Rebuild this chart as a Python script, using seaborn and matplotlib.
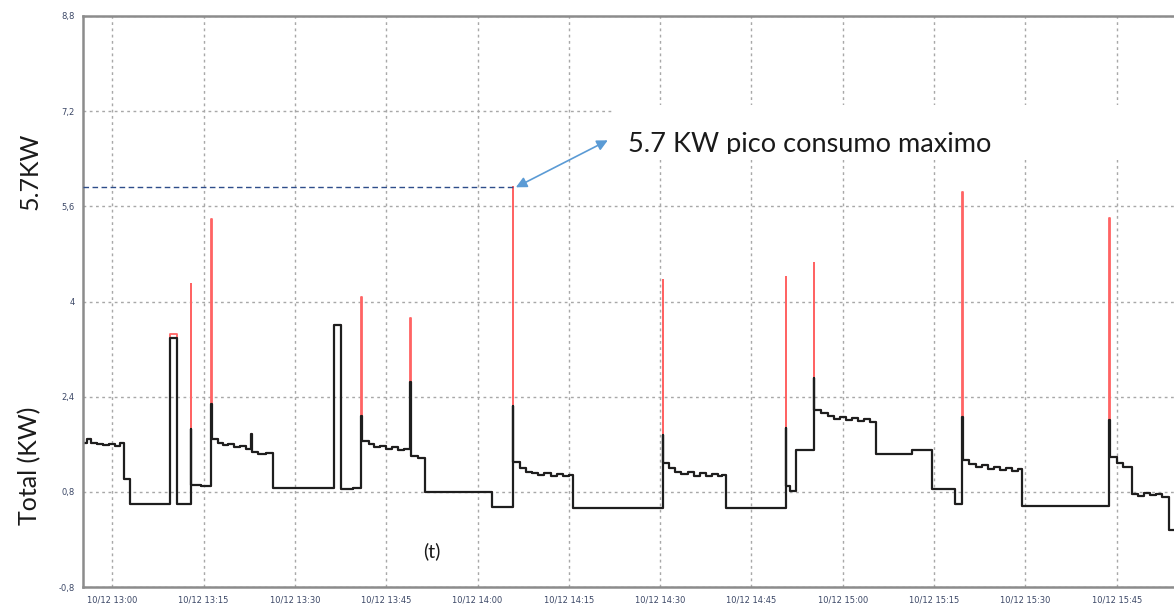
import numpy as np
import pandas as pd
import matplotlib
matplotlib.use("Agg")
import matplotlib.pyplot as plt
import matplotlib.dates as mdates
from matplotlib.ticker import FixedLocator, MultipleLocator
from matplotlib.patches import Rectangle
from matplotlib.transforms import Bbox, TransformedBbox
import seaborn as sns

sns.set_style("white")
plt.rcParams['font.family'] = ['Lato', 'DejaVu Sans']

# minutes after 10/12 13:00 -> average power (KW), step data
t_min = [-4.8, -4.2, -3.5, -2.5, -1.5, -0.5, 0.5, 1.3, 1.9, 3.0,
         9.5, 10.6, 12.9, 13.0, 14.5, 16.3, 16.4, 17.3, 18.2, 19.0,
         20.0, 21.0, 22.0, 22.8, 22.9, 24.0, 25.3, 26.4, 36.4, 37.6,
         39.5, 40.9, 41.0, 42.2, 43.0, 44.0, 45.0, 46.0, 47.0, 48.0,
         48.9, 49.0, 50.3, 51.3, 62.3, 65.8, 65.9, 67.0, 68.0, 69.0,
         70.0, 71.0, 72.0, 73.0, 74.0, 75.0, 75.7, 90.4, 90.5, 91.5,
         92.5, 93.5, 94.5, 95.5, 96.5, 97.5, 98.5, 99.5, 100.2, 100.8,
         110.6, 110.7, 111.3, 112.3, 115.2, 115.3, 116.5, 117.5, 118.5, 119.5,
         120.5, 121.5, 122.5, 123.5, 124.5, 125.5, 131.3, 134.6, 138.4, 139.6,
         139.7, 140.8, 141.8, 142.8, 143.8, 144.8, 145.8, 146.8, 147.8, 148.8,
         149.5, 163.8, 163.9, 165.0, 166.0, 167.5, 168.5, 169.5, 170.5, 171.5,
         172.5, 173.6, 174.6]
avg_kw = [1.62, 1.68, 1.62, 1.60, 1.58, 1.60, 1.57, 1.62, 1.02, 0.60,
          3.38, 0.60, 1.85, 0.92, 0.90, 2.28, 1.68, 1.62, 1.58, 1.60,
          1.55, 1.57, 1.52, 1.78, 1.47, 1.44, 1.46, 0.87, 3.60, 0.84,
          0.87, 2.08, 1.66, 1.60, 1.55, 1.57, 1.52, 1.55, 1.50, 1.52,
          2.64, 1.40, 1.37, 0.79, 0.55, 2.25, 1.30, 1.20, 1.14, 1.12,
          1.08, 1.12, 1.07, 1.10, 1.06, 1.09, 0.52, 1.75, 1.28, 1.20,
          1.14, 1.10, 1.13, 1.07, 1.11, 1.06, 1.10, 1.06, 1.09, 0.53,
          1.88, 0.90, 0.82, 1.51, 2.71, 2.18, 2.12, 2.07, 2.03, 2.06,
          2.00, 2.04, 1.99, 2.02, 1.98, 1.43, 1.51, 0.85, 0.60, 2.05,
          1.33, 1.27, 1.22, 1.25, 1.18, 1.22, 1.16, 1.20, 1.15, 1.19,
          0.57, 2.00, 1.38, 1.28, 1.22, 0.77, 0.73, 0.78, 0.74, 0.77,
          0.72, 0.16, 0.16]

# start-up peaks (max channel)
spike_t = [9.5, 12.9, 16.3, 40.9, 48.9, 65.8, 90.4, 110.6, 115.2, 139.6, 163.8]
spike_max = [3.45, 4.30, 5.38, 4.07, 3.72, 5.92, 4.36, 4.41, 4.64, 5.84, 5.40]

y_ticks = [-0.8, 0.8, 2.4, 4.0, 5.6, 7.2, 8.8]
y_labels = ["-0,8", "0,8", "2,4", "4", "5,6", "7,2", "8,8"]

base = pd.Timestamp("2019-10-12 13:00")
df = pd.DataFrame({"t": base + pd.to_timedelta(t_min, unit="min"), "avg": avg_kw})
df["max"] = df["avg"]
for t, v in zip(spike_t, spike_max):
    df.loc[np.isclose(t_min, t), "max"] = v

W, H = 1174, 605
fig = plt.figure(figsize=(W / 100, H / 100), dpi=100)
ax = fig.add_axes([83 / W, 18 / H, 1 - 83 / W, 571 / H])

sns.lineplot(data=df, x="t", y="max", ax=ax, color="#ff6464", lw=1.3,
             drawstyle="steps-post", estimator=None, sort=False, legend=False)
sns.lineplot(data=df, x="t", y="avg", ax=ax, color="#1e1e1e", lw=1.6,
             drawstyle="steps-post", estimator=None, sort=False, legend=False)

x0 = base + pd.Timedelta(minutes=-4.8)
x1 = base + pd.Timedelta(minutes=174.4)
ax.set_xlim(x0, x1)
ax.set_ylim(-0.8, 8.8)

ax.xaxis.set_major_locator(mdates.MinuteLocator(byminute=[0, 15, 30, 45]))
ax.xaxis.set_minor_locator(FixedLocator(
    [mdates.date2num(base + pd.Timedelta(minutes=7.5 * k)) for k in range(-1, 25)]))
ax.xaxis.set_major_formatter(mdates.DateFormatter("%m/%d %H:%M"))
ax.set_yticks(y_ticks)
ax.set_yticklabels(y_labels)
ax.yaxis.set_minor_locator(MultipleLocator(0.4))

ax.grid(True, which="major", color="#a8a8a8", linestyle=(0, (2, 2.5)), lw=1.0)
for side in ["left", "bottom", "top"]:
    ax.spines[side].set_color("#8c8c8c")
    ax.spines[side].set_linewidth(1.8)
ax.spines["right"].set_visible(False)
ax.tick_params(axis="both", which="both", direction="out", color="#8c8c8c",
               labelsize=6, labelcolor="#3b4766", pad=2)
ax.tick_params(which="major", length=4)
ax.tick_params(which="minor", length=3)
for lab in ax.get_xticklabels() + ax.get_yticklabels():
    lab.set_fontfamily("DejaVu Sans")
ax.set_xlabel("")
ax.set_ylabel("")

# peak marker line and arrow
peak_i = df["max"].idxmax()
peak_t = df.loc[peak_i, "t"]
peak_v = df.loc[peak_i, "max"]
ax.hlines(peak_v, x0, peak_t, color="#2e4d8a", linestyle=(0, (4, 2.5)), lw=1.0, zorder=4)
ax.annotate("", xy=(mdates.date2num(peak_t + pd.Timedelta(minutes=0.5)), peak_v),
            xytext=(mdates.date2num(peak_t + pd.Timedelta(minutes=15.6)), 6.71),
            arrowprops=dict(arrowstyle="<|-|>", color="#5b9bd5", lw=1.2,
                            mutation_scale=16, shrinkA=0, shrinkB=0),
            annotation_clip=False, zorder=6)

# pasted text box covering the grid
fig.add_artist(Rectangle((612 / W, 1 - 160 / H), (W - 612) / W, 55 / H,
                         transform=fig.transFigure, facecolor="white",
                         edgecolor="none", zorder=5))
txt = fig.text(628 / W, 1 - 152 / H, "5.7 KW pico consumo maximo", fontsize=19.5,
               color="#1a1a1a", va="baseline", ha="left", zorder=6)
txt.set_clip_box(TransformedBbox(Bbox([[0, 1 - 154 / H], [1, 1]]), fig.transFigure))
txt.set_clip_on(True)

fig.text(30 / W, 1 - 466 / H, "Total (KW)", rotation=90, fontsize=18,
         color="#1a1a1a", ha="center", va="center")
fig.text(30 / W, 1 - 171 / H, "5.7KW", rotation=90, fontsize=18,
         color="#1a1a1a", ha="center", va="center")
fig.text(432 / W, 1 - 551 / H, "(t)", fontsize=14, color="#1a1a1a",
         ha="center", va="center")

fig.savefig("out.png", dpi=100)
plt.close()
